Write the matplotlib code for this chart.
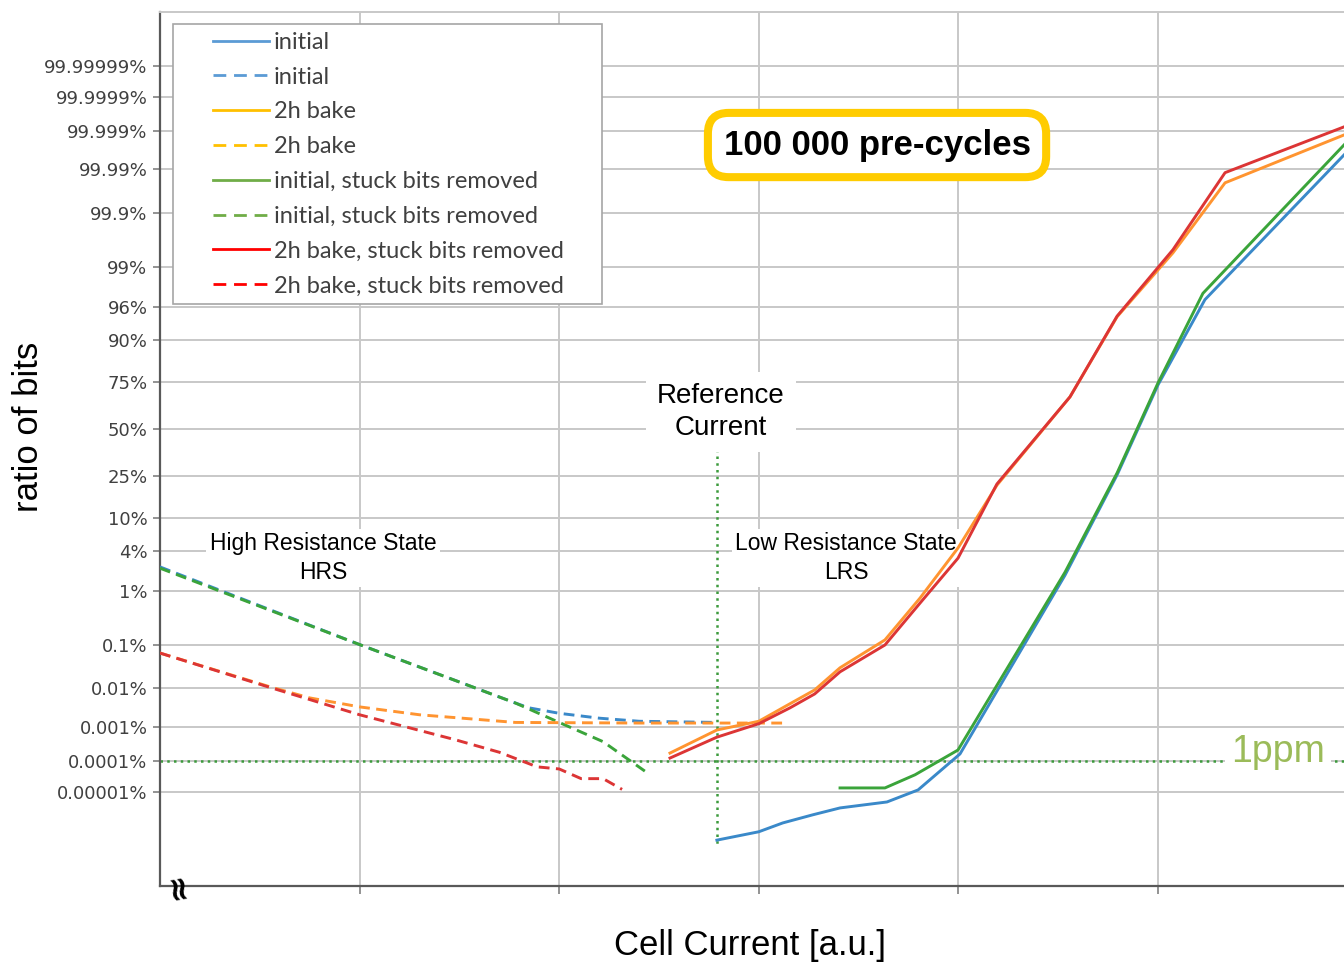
import math

import numpy as np
import matplotlib
matplotlib.use("Agg")
import matplotlib.pyplot as plt
from matplotlib.legend_handler import HandlerLine2D
from matplotlib.lines import Line2D
from matplotlib.ticker import NullLocator

# ---- data: cell current in grid units [a.u.], cumulative ratio of bits in % ----

INIT_X = [2.79, 3.0, 3.12, 3.27, 3.407, 3.642, 3.798, 4.008, 4.534, 4.795, 5.0, 5.235, 5.932]
INIT_PCT = [1.9e-7, 3.9e-7, 8.2e-7, 1.6e-6, 2.8e-6, 4.5e-6, 1.15e-5, 0.00016, 1.8, 25.5, 73.6, 96.8, 99.9957]

INIT_DASH_X = [0.0, 1.0, 1.78, 1.85, 2.0, 2.2, 2.4, 2.79]
INIT_DASH_PCT = [2.4, 0.1, 0.0043, 0.0032, 0.0023, 0.0017, 0.0014, 0.0013]

BAKE_X = [2.555, 2.79, 3.0, 3.156, 3.28, 3.407, 3.632, 3.808, 3.998, 4.193, 4.559, 4.795, 5.075, 5.336, 5.932]
BAKE_PCT = [0.00017, 0.0008, 0.0014, 0.0041, 0.0092, 0.031, 0.125, 0.77, 4.4, 21.0, 67.7, 94.6, 99.42, 99.979, 99.99874]

BAKE_DASH_X = [0.0, 0.55, 0.75, 1.0, 1.3, 1.78, 2.4, 3.12]
BAKE_DASH_PCT = [0.066, 0.011, 0.0058, 0.0034, 0.0021, 0.0013, 0.00125, 0.00125]

INIT_SBR_X = [3.407, 3.632, 3.783, 3.998, 4.534, 4.795, 5.0, 5.225, 5.932]
INIT_SBR_PCT = [1.34e-5, 1.34e-5, 3.6e-5, 0.00021, 2.0, 26.4, 74.5, 97.4, 99.99765]

INIT_SBR_DASH_X = [0.0, 1.0, 1.78, 2.0, 2.22, 2.455]
INIT_SBR_DASH_PCT = [2.3, 0.1, 0.0043, 0.0013, 0.00037, 0.000036]

BAKE_SBR_X = BAKE_X
BAKE_SBR_PCT = [0.00012, 0.0005, 0.0012, 0.0032, 0.0073, 0.025, 0.098, 0.63, 3.2, 21.5, 67.7, 94.7, 99.49, 99.988, 99.99925]

BAKE_SBR_DASH_X = [0.0, 0.54, 1.0, 1.48, 1.70, 1.89, 2.0, 2.11, 2.22, 2.315]
BAKE_SBR_DASH_PCT = [0.066, 0.011, 0.0021, 0.00042, 0.00018, 0.000064, 0.000055, 0.000027, 0.000027, 0.000012]

LEGEND_LABELS = ["initial", "initial", "2h bake", "2h bake",
                 "initial, stuck bits removed", "initial, stuck bits removed",
                 "2h bake, stuck bits removed", "2h bake, stuck bits removed"]

YTICKS_PCT = [1e-5, 1e-4, 1e-3, 1e-2, 0.1, 1, 4, 10, 25, 50, 75, 90, 96, 99,
              99.9, 99.99, 99.999, 99.9999, 99.99999]
YTICK_LABELS = ["0.00001%", "0.0001%", "0.001%", "0.01%", "0.1%", "1%", "4%", "10%",
                "25%", "50%", "75%", "90%", "96%", "99%", "99.9%", "99.99%",
                "99.999%", "99.9999%", "99.99999%"]
XGRID = [1, 2, 3, 4, 5]

PPM_PCT = 1e-4              # 1 ppm criterion
REF_X = 2.79                # reference current
REF_SPAN_PCT = [50, 1.3e-7]

# ---- palette ------------------------------------------------------------------

C_BLUE, C_ORANGE, C_GREEN, C_RED = "#3A89C9", "#FF9430", "#3AA43A", "#DC3535"
L_BLUE, L_GOLD, L_GREEN, L_RED = "#5B9BD5", "#FFC000", "#70AD47", "#FF0000"
C_DOT = "#3C9A3C"
C_PPM = "#9BBB59"
C_GRID = "#C8C8C8"
C_BOX = "#FFCC00"

W, H = 1344, 966

# ---- normal probability (probit) scale ------------------------------------------

_A = [-3.969683028665376e+01, 2.209460984245205e+02, -2.759285104469687e+02,
      1.383577518672690e+02, -3.066479806614716e+01, 2.506628277459239e+00]
_B = [-5.447609879822406e+01, 1.615858368580409e+02, -1.556989798598866e+02,
      6.680131188771972e+01, -1.328068155288572e+01]
_C = [-7.784894002430293e-03, -3.223964580411365e-01, -2.400758277161838e+00,
      -2.549732539343734e+00, 4.374664141464968e+00, 2.938163982698783e+00]
_D = [7.784695709041462e-03, 3.224671290700398e-01, 2.445134137142996e+00,
      3.754408661907416e+00]
_P_LOW = 0.02425
_erfc = np.vectorize(math.erfc, otypes=[float])


def to_sigma(pct):
    q = np.clip(np.asarray(pct, dtype=float) / 100.0, 1e-300, 1 - 1e-16)
    r = q - 0.5
    s = r * r
    central = ((((((_A[0] * s + _A[1]) * s + _A[2]) * s + _A[3]) * s + _A[4]) * s + _A[5]) * r
               / (((((_B[0] * s + _B[1]) * s + _B[2]) * s + _B[3]) * s + _B[4]) * s + 1))
    tq = np.minimum(q, 1 - q)
    t = np.sqrt(-2 * np.log(tq))
    tail = ((((((_C[0] * t + _C[1]) * t + _C[2]) * t + _C[3]) * t + _C[4]) * t + _C[5])
            / ((((_D[0] * t + _D[1]) * t + _D[2]) * t + _D[3]) * t + 1))
    tail = np.where(q < 0.5, tail, -tail)
    return np.where(tq < _P_LOW, tail, central)


def from_sigma(z):
    return 50.0 * _erfc(-np.asarray(z, dtype=float) / math.sqrt(2))


class _RightLine(HandlerLine2D):
    """Legend line drawn only on the right part of the handle box."""

    def get_xdata(self, legend, xdescent, ydescent, width, height, fontsize):
        xd = np.array([width * 0.365, width]) - xdescent
        return xd, xd


fig = plt.figure(figsize=(W / 100, H / 100), dpi=100)
ax = fig.add_axes([160 / W, 80 / H, 1184 / W, 874 / H])
ax.set_yscale("function", functions=(to_sigma, from_sigma))

series = [
    (INIT_X, INIT_PCT, C_BLUE, "-"),
    (INIT_DASH_X, INIT_DASH_PCT, C_BLUE, "--"),
    (INIT_SBR_DASH_X, INIT_SBR_DASH_PCT, C_GREEN, "--"),
    (BAKE_DASH_X, BAKE_DASH_PCT, C_ORANGE, "--"),
    (BAKE_SBR_DASH_X, BAKE_SBR_DASH_PCT, C_RED, "--"),
    (BAKE_X, BAKE_PCT, C_ORANGE, "-"),
    (BAKE_SBR_X, BAKE_SBR_PCT, C_RED, "-"),
    (INIT_SBR_X, INIT_SBR_PCT, C_GREEN, "-"),
]
for xs, ys, col, ls in series:
    ln, = ax.plot(xs, ys, color=col, lw=2.1, linestyle=ls, zorder=3)
    if ls == "--":
        ln.set_dashes((3.7, 2.2))

# 1 ppm line and reference current
ax.axhline(PPM_PCT, color=C_DOT, lw=1.8, linestyle=(0, (1, 1.7)), zorder=2.2)
ax.plot([REF_X, REF_X], REF_SPAN_PCT, color=C_DOT, lw=1.8,
        linestyle=(0, (1, 1.7)), zorder=2.2)

ax.set_xlim(0, 1184 / 199.6)
ax.set_ylim(float(from_sigma(-6.55)), float(from_sigma(5.975)))
ax.set_yticks(YTICKS_PCT, YTICK_LABELS)
ax.yaxis.set_minor_locator(NullLocator())
ax.set_xticks(XGRID)
ax.xaxis.set_minor_locator(NullLocator())
ax.tick_params(axis="x", length=6, width=1.2, color="#808080", labelbottom=False)
ax.tick_params(axis="y", length=5, width=1.2, color="#808080", pad=4,
               labelsize=13, labelcolor="#404040")
for lab in ax.get_yticklabels():
    lab.set_family("DejaVu Sans")
ax.grid(True, color=C_GRID, lw=1.4, zorder=0)
ax.set_axisbelow(True)
for side in ("left", "bottom"):
    ax.spines[side].set_color("#595959")
    ax.spines[side].set_linewidth(1.6)
ax.spines["top"].set_color(C_GRID)
ax.spines["top"].set_linewidth(1.4)
ax.spines["right"].set_visible(False)

# ---- annotations ----------------------------------------------------------------

TXT = dict(family="Liberation Sans", color="black", transform=ax.transAxes,
           ha="center", va="center")
ax.text(0.1377, 0.3755, "High Resistance State\nHRS", fontsize=16.5, linespacing=1.3,
        bbox=dict(boxstyle="square,pad=0.15", fc="white", ec="none"), zorder=2.5, **TXT)
ax.text(0.5794, 0.3755, "Low Resistance State\nLRS", fontsize=16.5, linespacing=1.3,
        bbox=dict(boxstyle="square,pad=0.15", fc="white", ec="none"), zorder=2.5, **TXT)
ax.text(0.4738, 0.5425, "Reference\nCurrent", fontsize=20, linespacing=1.3,
        bbox=dict(boxstyle="square,pad=0.4", fc="white", ec="none"), zorder=2.5, **TXT)
ax.text(0.6056, 0.8478, "100 000 pre-cycles", fontsize=25, fontweight="bold",
        bbox=dict(boxstyle="round,pad=0.45,rounding_size=0.6", fc="white",
                  ec=C_BOX, lw=5.8), zorder=6, **TXT)
ax.text(0.9443, 0.1533, "1ppm", fontsize=27, family="Liberation Sans", color=C_PPM,
        transform=ax.transAxes, ha="center", va="center",
        bbox=dict(boxstyle="square,pad=0.15", fc="white", ec="none"), zorder=2.5)
ax.text(16 / 1184, 1 / 874, "\u2248", fontsize=24, fontweight="bold", rotation=100,
        transform=ax.transAxes, ha="center", va="center", clip_on=False, zorder=6)

fig.text(28 / W, 1 - 427 / H, "ratio of bits", rotation=90, fontsize=25,
         family="Liberation Sans", ha="center", va="center")
fig.text(750 / W, 1 - 946 / H, "Cell Current [a.u.]", fontsize=25,
         family="Liberation Sans", ha="center", va="center")

# ---- legend ---------------------------------------------------------------------

leg_colors = [L_BLUE, L_BLUE, L_GOLD, L_GOLD, L_GREEN, L_GREEN, L_RED, L_RED]
handles = []
for i, col in enumerate(leg_colors):
    h = Line2D([], [], color=col, lw=2.0)
    if i % 2:
        h.set_dashes((4.6, 2.8))
    handles.append(h)
leg = fig.legend(handles, LEGEND_LABELS, loc="upper left",
                 bbox_to_anchor=(173 / W, 1 - 301 / H, 429 / W, 277 / H),
                 mode="expand", borderaxespad=0, borderpad=0.33,
                 handlelength=3.74, handletextpad=0.2, labelspacing=0.585,
                 fancybox=False, framealpha=1, edgecolor="#A6A6A6",
                 prop=dict(family="Lato", size=17), labelcolor="#404040",
                 handler_map={Line2D: _RightLine()})
leg.get_frame().set_linewidth(1.2)

fig.savefig("out.png", dpi=100)
